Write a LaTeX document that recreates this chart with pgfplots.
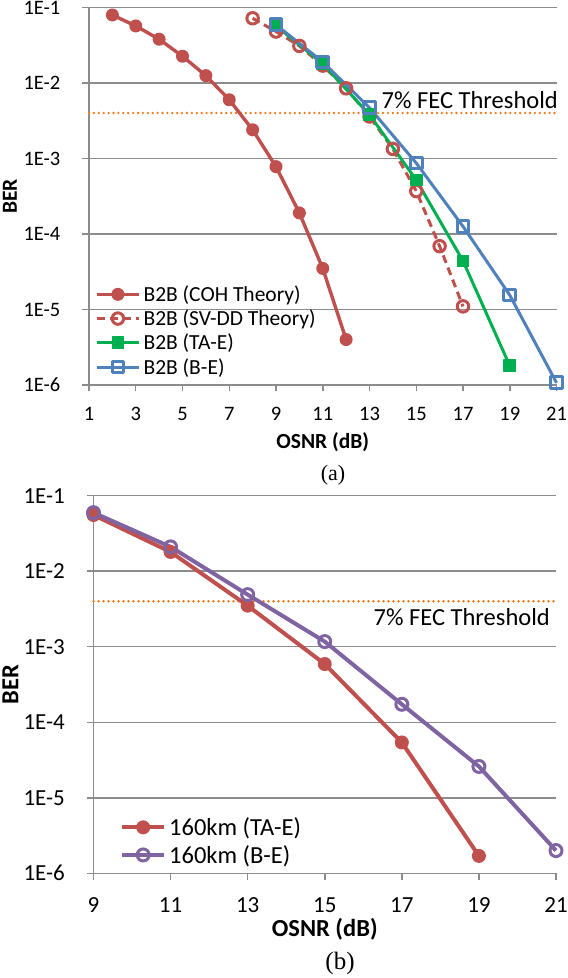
\documentclass[border=0pt]{standalone}
\usepackage{pgfplots}
\pgfplotsset{compat=1.18}
\usepackage{fontspec}
\setmainfont{Carlito}
\newfontfamily\capfont{Liberation Serif}
\definecolor{cred}{HTML}{C0504D}
\definecolor{cgreen}{HTML}{00B050}
\definecolor{cblue}{HTML}{4F81BD}
\definecolor{cpurple}{HTML}{8064A2}
\definecolor{corange}{HTML}{F07A1E}
\definecolor{cgrid}{HTML}{8C8C8C}
\newcommand{\fs}[1]{\fontsize{#1}{#1}\selectfont}
\pgfplotsset{
  legend image code/.code={\draw[mark repeat=2,mark phase=2,#1] plot coordinates {(0pt,0pt)(21pt,0pt)(42pt,0pt)};},
}
\begin{document}
\begin{tikzpicture}[x=1pt,y=1pt]
\path[use as bounding box] (0,0) rectangle (568,978);

% ---------------- (a) ----------------
\begin{axis}[
  scale only axis, anchor=south west,
  ymode=log, ymin=1e-6, ymax=1e-1,
  ytick={1e-6,1e-5,1e-4,1e-3,1e-2,1e-1},
  yticklabels={1E-6,1E-5,1E-4,1E-3,1E-2,1E-1},
  yminorticks=false,
  axis lines=left,
  axis line style={-, draw=cgrid, line width=1.5pt},
  tick style={draw=cgrid, line width=1.5pt},
  major tick length=6.5pt,
  tick align=outside, tick pos=left,
  ymajorgrids=true,
  major grid style={draw=cgrid, line width=1.5pt},
  yticklabel style={anchor=east, inner sep=0pt, xshift=-22pt},
  xticklabel style={anchor=north, inner sep=0pt},
  clip=false,
  legend cell align=left,
  at={(89pt,593pt)}, width=467.5pt, height=377.5pt,
  xmin=1, xmax=21,
  xtick={1,3,5,7,9,11,13,15,17,19,21},
  xticklabels={1,3,5,7,9,11,13,15,17,19,21},
  ticklabel style={font=\fs{20.5}},
  xticklabel style={yshift=-16pt},
  xlabel={\textbf{OSNR (dB)}},
  xlabel style={font=\fs{21.5}, at={(axis description cs:0.5,0)}, anchor=center, yshift=-57pt},
  ylabel={\textbf{BER}},
  ylabel style={font=\fs{21.5}, at={(axis description cs:0,0.5)}, anchor=center, rotate=0, yshift=79pt},
  legend style={at={(rel axis cs:0.0128,0.2635)}, anchor=north west, draw=none, fill=none,
    font=\fs{21.5}, inner sep=0pt, row sep=7pt,
    nodes={inner sep=0pt},
    /tikz/every odd column/.append style={column sep=3pt}},
]
\addplot[corange, line width=2.6pt, line cap=round, dash pattern=on 0pt off 4.9pt, forget plot]
  coordinates {(1,0.004)(21,0.004)};
\addplot[cred, line width=3.4pt, line join=round, mark=*, mark size=5.75pt,
  mark options={solid, fill=cred, draw=cred, line width=1.5pt}]
  coordinates {(2,0.0796)(3,0.057)(4,0.038)(5,0.0226)(6,0.0125)(7,0.006)(8,0.0024)(9,7.8e-4)(10,1.9e-4)(11,3.5e-5)(12,4e-6)};
\addlegendentry{B2B (COH Theory)}
\addplot[cred, line width=3pt, line join=round, dash pattern=on 8pt off 5pt, mark=o, mark size=5.75pt,
  mark options={solid, draw=cred, line width=3pt}]
  coordinates {(8,0.072)(9,0.048)(10,0.031)(11,0.017)(12,0.0085)(13,0.0036)(14,0.00134)(15,3.7e-4)(16,6.9e-5)(17,1.1e-5)};
\addlegendentry{B2B (SV-DD Theory)}
\addplot[cgreen, line width=3pt, line join=round, mark=square*, mark size=5.6pt,
  mark options={solid, fill=cgreen, draw=cgreen, line width=1.5pt}]
  coordinates {(9,0.057)(11,0.018)(13,0.0038)(15,5.2e-4)(17,4.4e-5)(19,1.8e-6)};
\addlegendentry{B2B (TA-E)}
\addplot[cblue, line width=3pt, line join=round, mark=square, mark size=5.85pt,
  mark options={solid, draw=cblue, line width=3pt}]
  coordinates {(9,0.059)(11,0.019)(13,0.0047)(15,8.7e-4)(17,1.26e-4)(19,1.55e-5)(21,1.07e-6)};
\addlegendentry{B2B (B-E)}
\node[anchor=base east, font=\fs{24.5}, inner sep=0pt] at (axis cs:21,0.004) [xshift=1.5pt, yshift=4.6pt] {7\% FEC Threshold};
\end{axis}
\node[font=\capfont\fs{22}] at (333,503) {(a)};

% ---------------- (b) ----------------
\begin{axis}[
  scale only axis, anchor=south west,
  ymode=log, ymin=1e-6, ymax=1e-1,
  ytick={1e-6,1e-5,1e-4,1e-3,1e-2,1e-1},
  yticklabels={1E-6,1E-5,1E-4,1E-3,1E-2,1E-1},
  yminorticks=false,
  axis lines=left,
  axis line style={-, draw=cgrid, line width=1.5pt},
  tick style={draw=cgrid, line width=1.5pt},
  major tick length=6.5pt,
  tick align=outside, tick pos=left,
  ymajorgrids=true,
  major grid style={draw=cgrid, line width=1.5pt},
  yticklabel style={anchor=east, inner sep=0pt, xshift=-22pt},
  xticklabel style={anchor=north, inner sep=0pt},
  clip=false,
  legend cell align=left,
  at={(93.5pt,104.7pt)}, width=462.5pt, height=377.6pt,
  xmin=9, xmax=21,
  xtick={9,11,13,15,17,19,21},
  xticklabels={9,11,13,15,17,19,21},
  ticklabel style={font=\fs{23}},
  xticklabel style={yshift=-18pt},
  xlabel={\textbf{OSNR (dB)}},
  xlabel style={font=\fs{24.5}, at={(axis description cs:0.5,0)}, anchor=center, yshift=-56pt},
  ylabel={\textbf{BER}},
  ylabel style={font=\fs{24.5}, at={(axis description cs:0,0.5)}, anchor=center, rotate=0, yshift=83pt},
  legend style={at={(rel axis cs:0.0573,0.148)}, anchor=north west, draw=none, fill=none,
    font=\fs{24.5}, inner sep=0pt, row sep=8.2pt,
    nodes={inner sep=0pt},
    /tikz/every odd column/.append style={column sep=3pt}},
]
\addplot[corange, line width=2.6pt, line cap=round, dash pattern=on 0pt off 5pt, forget plot]
  coordinates {(9,0.004)(21,0.004)};
\addplot[cred, line width=4pt, line join=round, mark=*, mark size=6pt,
  mark options={solid, fill=cred, draw=cred, line width=2pt}]
  coordinates {(9,0.0555)(11,0.018)(13,0.0035)(15,5.9e-4)(17,5.4e-5)(19,1.7e-6)};
\addlegendentry{160km (TA-E)}
\addplot[cpurple, line width=4pt, line join=round, mark=o, mark size=6pt,
  mark options={solid, draw=cpurple, line width=3pt}]
  coordinates {(9,0.0596)(11,0.021)(13,0.0049)(15,1.17e-3)(17,1.73e-4)(19,2.6e-5)(21,2e-6)};
\addlegendentry{160km (B-E)}
\node[anchor=base east, font=\fs{24.5}, inner sep=0pt] at (axis cs:21,0.004) [xshift=-6pt, yshift=-23.8pt] {7\% FEC Threshold};
\end{axis}
\node[font=\capfont\fs{25}] at (340,15) {(b)};
\end{tikzpicture}
\end{document}
